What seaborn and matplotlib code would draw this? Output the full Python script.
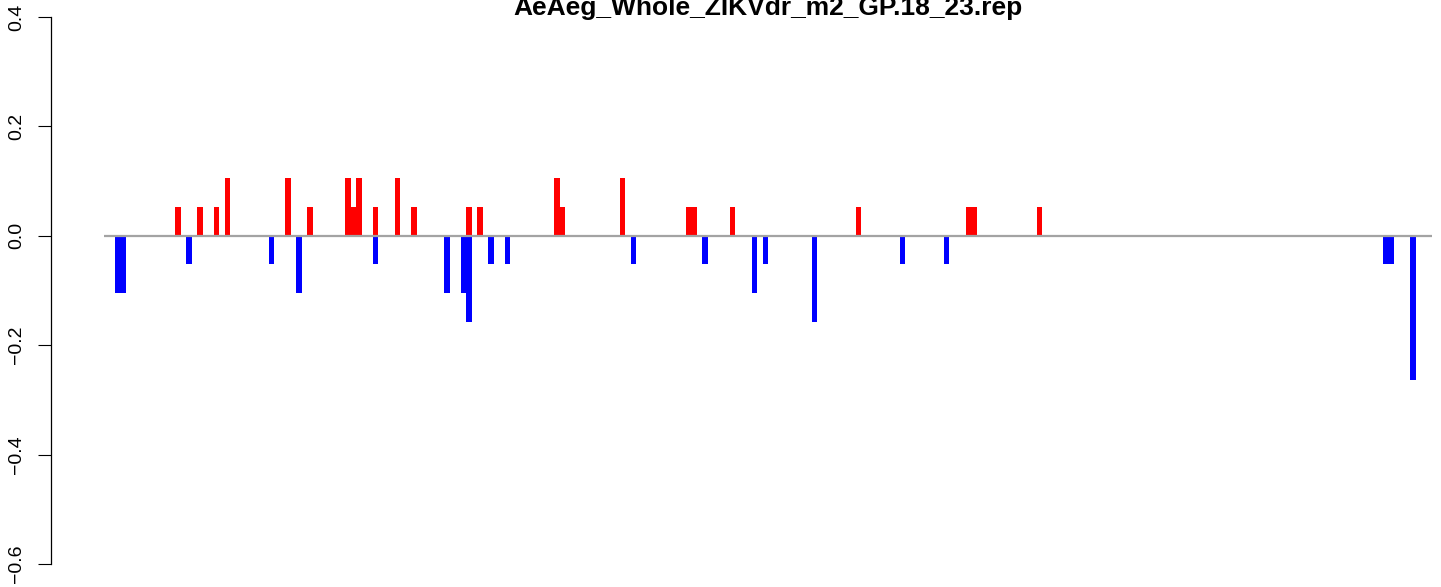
"""Strand bar plot for AeAeg_Whole_ZIKVdr_m2_GP.18_23.rep, redrawn with seaborn."""

import numpy as np
import pandas as pd
import seaborn as sns
import matplotlib
matplotlib.use("Agg")
import matplotlib.pyplot as plt

# ---------------------------------------------------------------------------
# Data
# ---------------------------------------------------------------------------
TITLE = "AeAeg_Whole_ZIKVdr_m2_GP.18_23.rep"
N_POS = 242  # number of positions along the sequence

# sense (red, positive)
plus_pos = [13, 17, 20, 22, 33, 37, 44, 45, 46, 49, 53, 56, 66, 68,
            82, 83, 94, 106, 107, 114, 137, 157, 158, 170]
plus_val = [0.0526, 0.0526, 0.0526, 0.1053, 0.1053, 0.0526, 0.1053, 0.0526,
            0.1053, 0.0526, 0.1053, 0.0526, 0.0526, 0.0526, 0.1053, 0.0526,
            0.1053, 0.0526, 0.0526, 0.0526, 0.0526, 0.0526, 0.0526, 0.0526]

# antisense (blue, negative)
minus_pos = [2, 3, 15, 30, 35, 49, 62, 65, 66, 70, 73, 96, 109, 118, 120,
             129, 145, 153, 233, 234, 238]
minus_val = [-0.1053, -0.1053, -0.0526, -0.0526, -0.1053, -0.0526, -0.1053,
             -0.1053, -0.1579, -0.0526, -0.0526, -0.0526, -0.0526, -0.1053,
             -0.0526, -0.1579, -0.0526, -0.0526, -0.0526, -0.0526, -0.2632]

y_ticks = [-0.6, -0.4, -0.2, 0.0, 0.2, 0.4]

# ---------------------------------------------------------------------------
# Plot
# ---------------------------------------------------------------------------
sns.set_style("white")
plt.rcParams["font.family"] = ["Liberation Sans", "DejaVu Sans"]
plt.rcParams["text.color"] = "black"
plt.rcParams["ytick.color"] = "black"
plt.rcParams["ytick.labelcolor"] = "black"

fig = plt.figure(figsize=(14.41, 5.87), dpi=100)
# plot region runs a little past the right/top edge of the picture (cropped R plot)
ax = fig.add_axes([50.9 / 1441, 0.00204, 1434.3 / 1441, 1.00644])

order = list(range(N_POS))
plus_df = pd.DataFrame({"pos": plus_pos, "val": plus_val})
minus_df = pd.DataFrame({"pos": minus_pos, "val": minus_val})

sns.barplot(data=plus_df, x="pos", y="val", order=order, width=1.0,
            color="#ff0000", saturation=1, errorbar=None, linewidth=0, ax=ax)
sns.barplot(data=minus_df, x="pos", y="val", order=order, width=1.0,
            color="#0000ff", saturation=1, errorbar=None, linewidth=0, ax=ax)

ax.hlines(0, -0.5, N_POS - 0.5, color="#a3a3a3", lw=1.6, zorder=5)

span = N_POS * 0.04
ax.set_xlim(-0.5 - span, N_POS - 0.5 + span)
ax.set_ylim(-0.64, 0.44)

ax.set_xticks([])
ax.set_xlabel("")
ax.set_ylabel("")
ax.set_yticks(y_ticks)
ax.set_yticklabels([f"{t:.1f}".replace("-", "\u2212") for t in y_ticks])
ax.tick_params(axis="y", left=True, length=9.4, width=0.8, pad=9,
               labelsize=14, labelrotation=90, color="black",
               labelcolor="black")
for lab in ax.get_yticklabels():
    lab.set_va("center")
    lab.set_ha("right")

for side in ["top", "right", "bottom"]:
    ax.spines[side].set_visible(False)
ax.spines["left"].set_bounds(-0.6, 0.4)
ax.spines["left"].set_linewidth(0.9)
ax.spines["left"].set_color("black")

fig.text((50.9 + 1434.3 / 2) / 1441, 1 - 14.5 / 587, TITLE, ha="center",
         va="baseline", fontsize=19, fontweight="bold", color="black")

fig.savefig("out.png", dpi=100)
